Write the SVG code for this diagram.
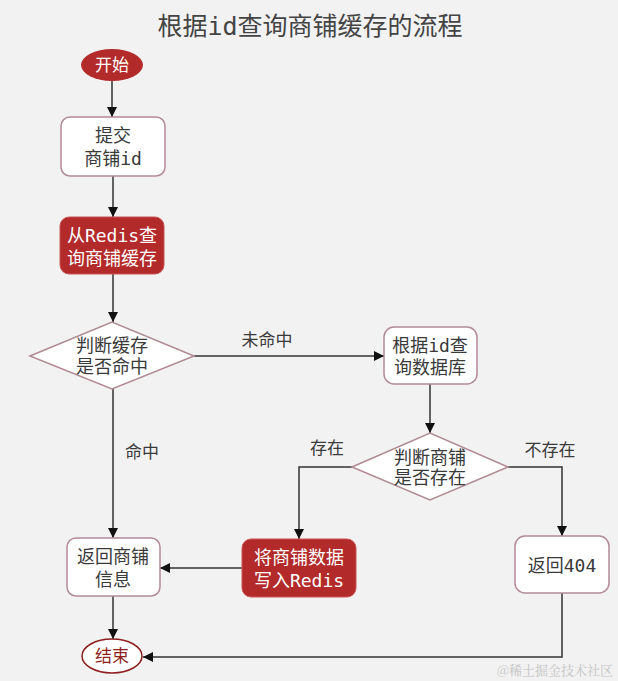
<svg xmlns="http://www.w3.org/2000/svg" width="618" height="681" viewBox="0 0 618 681">
<defs>
<marker id="arr" viewBox="0 0 10 10" refX="10" refY="5" markerWidth="10" markerHeight="10" markerUnits="userSpaceOnUse" orient="auto">
<path d="M0,0 L10,5 L0,10 z" fill="#111"/>
</marker>
<style>
text{font-family:"DejaVu Sans Mono","Noto Sans CJK SC",monospace;text-anchor:middle;dominant-baseline:central}
.t{font-size:18px;fill:#3a3a3a}
.w{font-size:18px;fill:#ffffff}
.lbl{font-size:17px;fill:#3a3a3a}
.box{fill:#ffffff;stroke:#b38a95;stroke-width:1.5}
.red{fill:#b22a2a;stroke:#c95555;stroke-width:1}
.dia{fill:#ffffff;stroke:#b08a92;stroke-width:1.5}
.ln{fill:none;stroke:#333;stroke-width:1.5;marker-end:url(#arr)}
</style>
</defs>
<rect width="618" height="681" fill="#f2f2f2"/>
<text x="310" y="26" style="font-size:25px;fill:#444">根据id查询商铺缓存的流程</text>

<g id="connectors">
<path class="ln" d="M112,81 V117"/>
<path class="ln" d="M113,176 V217"/>
<path class="ln" d="M113,274 V322"/>
<path class="ln" d="M194,356 H384"/>
<path class="ln" d="M113,389 V538"/>
<path class="ln" d="M430,384 V433"/>
<path class="ln" d="M352,467 H299 V539"/>
<path class="ln" d="M508,467 H562 V536"/>
<path class="ln" d="M242,568 H160"/>
<path class="ln" d="M113,596 V639"/>
<path class="ln" d="M562,593 V657 H143"/>
<text class="lbl" x="267" y="340">未命中</text>
<text class="lbl" x="142" y="452">命中</text>
<text class="lbl" x="327" y="448">存在</text>
<text class="lbl" x="550" y="450">不存在</text>
</g>

<g id="start">
<ellipse cx="112" cy="65" rx="31" ry="16" fill="#b22a2a"/>
<text class="w" x="112" y="65" style="font-size:17px">开始</text>
</g>
<g id="submit">
<rect class="box" x="61" y="117" width="104" height="59" rx="9"/>
<text class="t" x="113" y="135">提交</text>
<text class="t" x="113" y="158">商铺id</text>
</g>
<g id="queryRedis">
<rect class="red" x="60" y="217" width="104" height="57" rx="9"/>
<text class="w" x="112" y="235">从Redis查</text>
<text class="w" x="112" y="258">询商铺缓存</text>
</g>
<g id="hitCheck">
<polygon class="dia" points="30,356 112,322 194,356 112,389"/>
<text class="t" x="112" y="345">判断缓存</text>
<text class="t" x="112" y="366">是否命中</text>
</g>
<g id="queryDb">
<rect class="box" x="384" y="327" width="93" height="57" rx="10"/>
<text class="t" x="430" y="345">根据id查</text>
<text class="t" x="430" y="367">询数据库</text>
</g>
<g id="existCheck">
<polygon class="dia" points="352,467 430,433 508,467 430,500"/>
<text class="t" x="430" y="457">判断商铺</text>
<text class="t" x="430" y="477">是否存在</text>
</g>
<g id="writeRedis">
<rect class="red" x="242" y="539" width="114" height="58" rx="9"/>
<text class="w" x="299" y="557">将商铺数据</text>
<text class="w" x="299" y="580">写入Redis</text>
</g>
<g id="returnShop">
<rect class="box" x="67" y="538" width="93" height="58" rx="9"/>
<text class="t" x="113" y="556">返回商铺</text>
<text class="t" x="113" y="579">信息</text>
</g>
<g id="return404">
<rect class="box" x="515" y="536" width="94" height="57" rx="10"/>
<text class="t" x="562" y="565">返回404</text>
</g>
<g id="end">
<ellipse cx="112" cy="656" rx="30" ry="17" fill="#ffffff" stroke="#8e1f1f" stroke-width="1.5"/>
<text x="112" y="656" style="font-size:17px;fill:#8e1f1f">结束</text>
</g>
<text x="555" y="669" style="font-size:13px;fill:#c4c4c4;font-family:'Noto Serif CJK SC','Noto Sans CJK SC',serif">@稀土掘金技术社区</text>
</svg>
